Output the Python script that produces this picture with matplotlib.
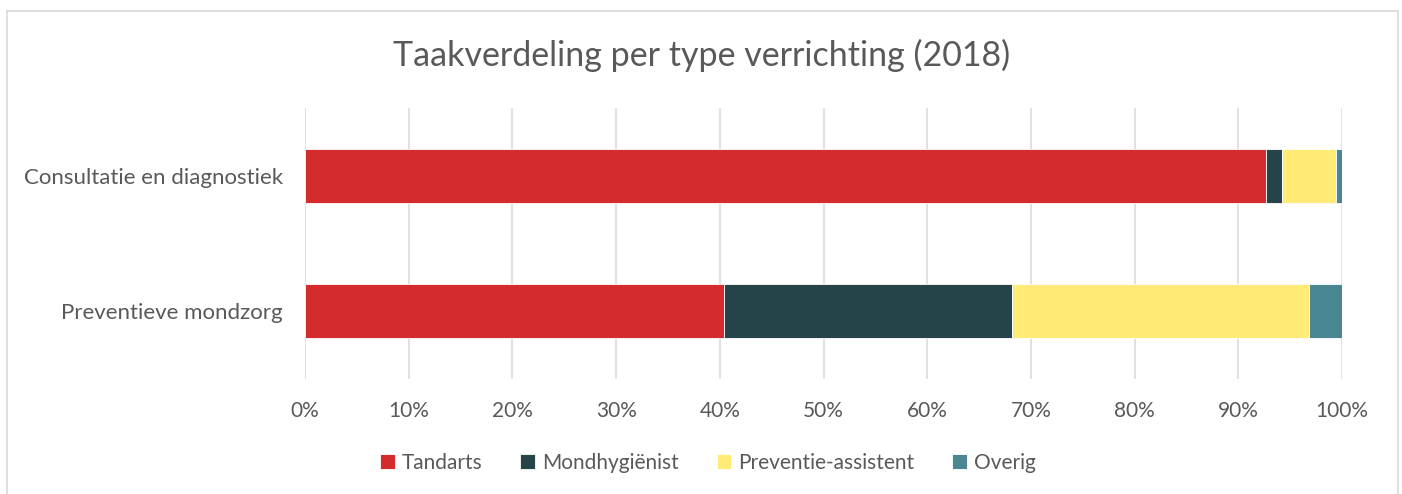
import matplotlib.pyplot as plt
from matplotlib.lines import Line2D
import numpy as np

# data (shares in %)
categories = ['Consultatie en diagnostiek', 'Preventieve mondzorg']
series = ['Tandarts', 'Mondhygiënist', 'Preventie-assistent', 'Overig']
tandarts = [92.7, 40.4]
mondhygienist = [1.5, 27.8]
preventie_assistent = [5.2, 28.6]
overig = [0.6, 3.2]
ticks = np.arange(0, 101, 10)

colors = ['#d42c2c', '#254449', '#ffeb75', '#4a8793']
TEXT = '#595959'

plt.rcParams['font.family'] = ['Lato', 'DejaVu Sans']

fig = plt.figure(figsize=(14.02, 4.94), dpi=100)
ax = fig.add_axes([305 / 1402, 1 - 379 / 494, 1037 / 1402, 271 / 494])

y = np.arange(len(categories))
left = np.zeros(len(categories))
for name, vals, c in zip(series, [tandarts, mondhygienist, preventie_assistent, overig], colors):
    ax.barh(y, vals, height=0.4, left=left, color=c, label=name,
            edgecolor='white', linewidth=0.6, zorder=3)
    left += np.array(vals)

ax.set_xlim(0, 100)
ax.set_ylim(1.5, -0.5)
ax.set_xticks(ticks)
ax.set_xticklabels([f'{t}%' for t in ticks])
ax.set_yticks(y)
ax.set_yticklabels(categories)
ax.tick_params(axis='both', length=0, labelcolor=TEXT)
ax.tick_params(axis='x', pad=16, labelsize=15)
ax.tick_params(axis='y', pad=16, labelsize=16)
for s in ax.spines.values():
    s.set_visible(False)
ax.grid(axis='x', color='#d9d9d9', linewidth=1.1, zorder=0)
ax.set_axisbelow(True)

fig.text(0.5 * (391 + 1012) / 1402, 1 - 55 / 494, 'Taakverdeling per type verrichting (2018)',
         ha='center', va='center', fontsize=24.5, color=TEXT)

fig.legend(loc='center', bbox_to_anchor=(708 / 1402, 1 - 463 / 494), ncol=4,
           frameon=False, fontsize=15, labelcolor=TEXT, handlelength=0.7,
           handleheight=0.7, handletextpad=0.35, columnspacing=1.8)

# outer chart border (left, top, right)
bc = '#d9d9d9'
fig.add_artist(Line2D([7 / 1402, 7 / 1402], [0, 1 - 11 / 494], color=bc, lw=1.2))
fig.add_artist(Line2D([7 / 1402, 1398 / 1402], [1 - 11 / 494, 1 - 11 / 494], color=bc, lw=1.2))
fig.add_artist(Line2D([1398 / 1402, 1398 / 1402], [0, 1 - 11 / 494], color=bc, lw=1.2))

fig.savefig('out.png', dpi=100, facecolor='white')
